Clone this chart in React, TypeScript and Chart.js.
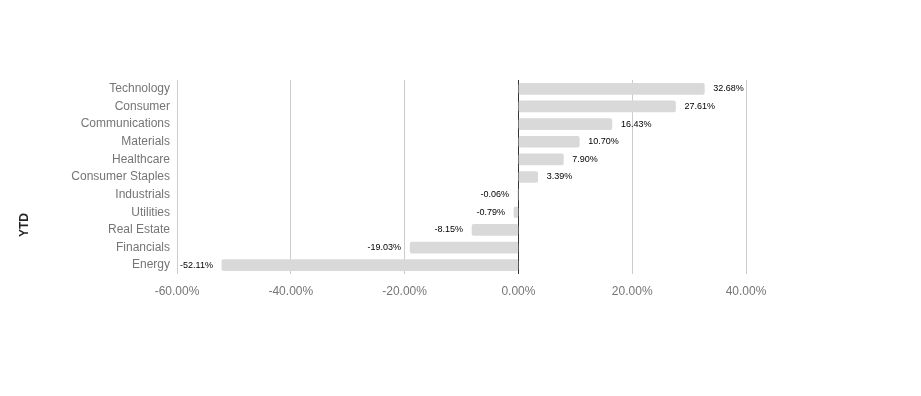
import React, { useEffect, useRef } from "react";
import { Chart, registerables } from "chart.js";

Chart.register(...registerables);

const categories = [
  "Technology",
  "Consumer",
  "Communications",
  "Materials",
  "Healthcare",
  "Consumer Staples",
  "Industrials",
  "Utilities",
  "Real Estate",
  "Financials",
  "Energy",
];
const ytdValues = [32.68, 27.61, 16.43, 10.7, 7.9, 3.39, -0.06, -0.79, -8.15, -19.03, -52.11];
const axisTitle = "YTD";
const xMin = -60;
const xMax = 40;
const xStep = 20;

const FONT = "'Liberation Sans', Arial, sans-serif";

const labelPlugin = {
  id: "barLabels",
  afterDatasetsDraw(chart: any) {
    const ctx = chart.ctx;
    const meta = chart.getDatasetMeta(0);
    ctx.save();
    ctx.font = `9px ${FONT}`;
    ctx.fillStyle = "#000";
    ctx.textBaseline = "middle";
    meta.data.forEach((el: any, i: number) => {
      const v = ytdValues[i];
      const txt = v.toFixed(2) + "%";
      if (v >= 0) {
        ctx.textAlign = "left";
        ctx.fillText(txt, el.x + 9, el.y);
      } else {
        ctx.textAlign = "right";
        ctx.fillText(txt, el.x - 9, el.y);
      }
    });
    // axis title
    ctx.font = `bold 12px ${FONT}`;
    ctx.fillStyle = "#222";
    ctx.textAlign = "center";
    ctx.translate(25, 225);
    ctx.rotate(-Math.PI / 2);
    ctx.fillText(axisTitle, 0, 0);
    ctx.restore();
  },
};

export default function App() {
  const ref = useRef<HTMLCanvasElement>(null);
  useEffect(() => {
    document.body.style.margin = "0";
    const chart = new Chart(ref.current!, {
      type: "bar",
      data: {
        labels: categories,
        datasets: [
          {
            data: ytdValues,
            backgroundColor: "#d9d9d9",
            barThickness: 11,
            borderRadius: 2,
            borderSkipped: false,
          },
        ],
      },
      options: {
        indexAxis: "y",
        animation: false,
        responsive: false,
        maintainAspectRatio: false,
        layout: { padding: { top: 80, right: 175, bottom: 0, left: 0 } },
        plugins: { legend: { display: false }, tooltip: { enabled: false } },
        scales: {
          x: {
            min: xMin,
            max: xMax,
            ticks: {
              stepSize: xStep,
              color: "#757575",
              font: { family: FONT, size: 12 },
              padding: 10,
              callback: (v: any) => Number(v).toFixed(2) + "%",
            },
            grid: {
              color: (c: any) => (c.tick && c.tick.value === 0 ? "#333" : "#cccccc"),
              lineWidth: 1,
              drawTicks: false,
            },
            border: { display: false },
            afterFit: (s: any) => {
              s.height = 122;
            },
          },
          y: {
            ticks: {
              color: "#757575",
              font: { family: FONT, size: 12 },
              padding: 7,
            },
            grid: { display: false, drawTicks: false },
            border: { display: false },
            afterFit: (s: any) => {
              s.width = 177;
            },
          },
        },
      },
      plugins: [labelPlugin],
    });
    return () => chart.destroy();
  }, []);
  return (
    <div style={{ position: "fixed", left: 0, top: 0, width: 921, height: 396, background: "#fff" }}>
      <canvas ref={ref} width={921} height={396} style={{ width: 921, height: 396 }} />
    </div>
  );
}
